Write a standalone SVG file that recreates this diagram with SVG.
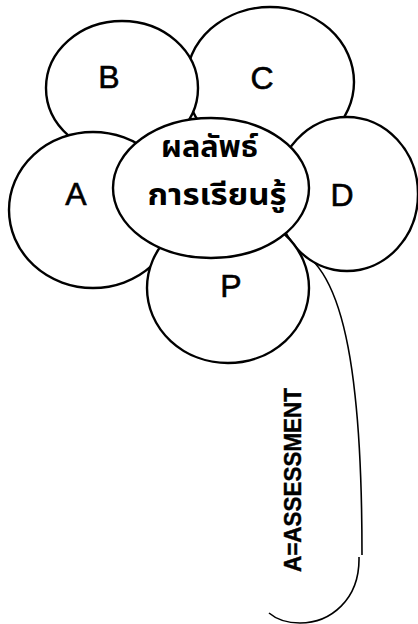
<svg xmlns="http://www.w3.org/2000/svg" width="418" height="624" viewBox="0 0 418 624">
<style>
.petal{fill:#fff;stroke:#000;stroke-width:2.4}
.lbl{font-family:"Liberation Sans",Arial,sans-serif;font-size:32px;fill:#000;stroke:#000;stroke-width:0.6;text-anchor:middle}
.th{font-family:"Noto Sans Thai","Noto Sans","DejaVu Sans",sans-serif;font-size:30px;font-weight:bold;fill:#000;text-anchor:middle}
.stem{fill:none;stroke:#000;stroke-width:1.6}
.side{font-family:"Liberation Sans",Arial,sans-serif;font-size:24px;font-weight:bold;fill:#000;stroke:#000;stroke-width:0.4}
</style>
<rect width="418" height="624" fill="#fff"/>
<g id="connectors">
<path class="stem" d="M311 259 C328 275 346 310 355 395 C360 440 362 490 362 555 M359 557 C360 600 330 623 300 623 C285 623 276 619 269 613"/>
</g>
<g id="node-C"><ellipse class="petal" cx="270" cy="82" rx="84" ry="75"/><text class="lbl" x="262" y="89">C</text></g>
<g id="node-B"><ellipse class="petal" cx="122" cy="88" rx="76" ry="67"/><text class="lbl" x="109" y="88">B</text></g>
<g id="node-A"><ellipse class="petal" cx="93" cy="210" rx="84" ry="78"/><text class="lbl" x="76" y="205">A</text></g>
<g id="node-D"><ellipse class="petal" cx="347" cy="194" rx="71" ry="77"/><text class="lbl" x="342" y="206">D</text></g>
<g id="node-P"><ellipse class="petal" cx="228" cy="288" rx="81" ry="75"/><text class="lbl" x="231" y="297">P</text></g>
<g id="node-center"><ellipse class="petal" cx="211" cy="188" rx="98" ry="70"/>
<text class="th" x="209.5" y="157" textLength="97" lengthAdjust="spacingAndGlyphs">ผลลัพธ์</text>
<text class="th" x="217" y="205" textLength="139" lengthAdjust="spacingAndGlyphs">การเรียนรู้</text></g>
<g id="label-assessment"><text class="side" transform="translate(301,572) rotate(-90)" textLength="184" lengthAdjust="spacingAndGlyphs">A=ASSESSMENT</text></g>
</svg>
